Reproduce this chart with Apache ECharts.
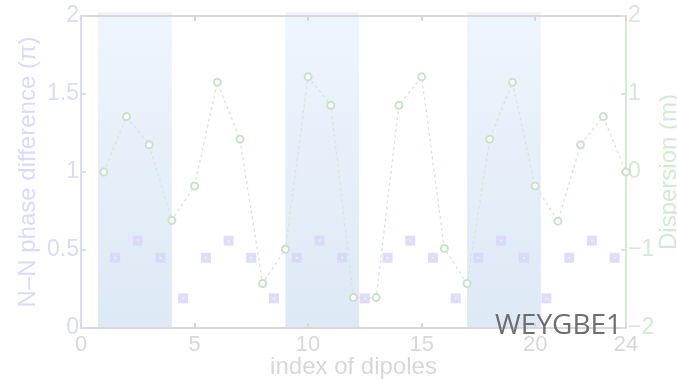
<!DOCTYPE html>
<html>
<head>
<meta charset="utf-8">
<style>
  html, body { margin: 0; padding: 0; background: #ffffff; }
  #chart { width: 677px; height: 379px; }
</style>
<script src="https://cdn.jsdelivr.net/npm/echarts@6/dist/echarts.min.js"></script>
</head>
<body>
<div id="chart"></div>
<script>
// Dipole midpoints and the N–N phase difference (in units of pi)
const phaseX = [1.5, 2.5, 3.5, 4.5, 5.5, 6.5, 7.5, 8.5, 9.5, 10.5, 11.5, 12.5,
                13.5, 14.5, 15.5, 16.5, 17.5, 18.5, 19.5, 20.5, 21.5, 22.5, 23.5];
const phaseY = [0.45, 0.56, 0.45, 0.19, 0.45, 0.56, 0.45, 0.19, 0.45, 0.56, 0.45, 0.19,
                0.45, 0.56, 0.45, 0.19, 0.45, 0.56, 0.45, 0.19, 0.45, 0.56, 0.45];

// Dipole index and dispersion (m)
const dispX = [1, 2, 3, 4, 5, 6, 7, 8, 9, 10, 11, 12,
               13, 14, 15, 16, 17, 18, 19, 20, 21, 22, 23, 24];
const dispY = [0, 0.71, 0.35, -0.62, -0.18, 1.15, 0.42, -1.43, -0.99, 1.22, 0.855, -1.61,
               -1.61, 0.855, 1.22, -0.98, -1.43, 0.42, 1.15, -0.18, -0.63, 0.35, 0.71, 0];

// Shaded dipole ranges
const bandStart = [0.75, 9, 17];
const bandEnd = [4, 12.25, 20.25];

// Axis ticks
const xTicks = [0, 5, 10, 15, 20, 24];
const leftTicks = [0, 0.5, 1, 1.5, 2];
const rightTicks = [-2, -1, 0, 1, 2];

const LAV = '#dadafb';
const GRN = '#d4ead4';
const GRY = '#d8d8d8';
const FONT = '"Liberation Sans", Arial, sans-serif';

const chart = echarts.init(document.getElementById('chart'), null, { renderer: 'canvas' });

const bandFill = new echarts.graphic.LinearGradient(0, 0, 0, 1, [
  { offset: 0, color: '#eef5fe' },
  { offset: 1, color: '#dde9f5' }
]);

const option = {
  animation: false,
  backgroundColor: '#ffffff',
  grid: { left: 81, right: 51, top: 16, bottom: 51, containLabel: false, outerBoundsMode: 'none' },
  xAxis: [
    {
      type: 'value', min: xTicks[0], max: xTicks[xTicks.length - 1], interval: 5,
      position: 'bottom',
      name: 'index of dipoles', nameLocation: 'middle', nameGap: 27, nameMoveOverlap: false,
      nameTextStyle: { color: GRY, fontSize: 24, fontFamily: FONT },
      axisLine: { onZero: false, lineStyle: { color: GRY, width: 2 } },
      axisTick: { inside: true, length: 5, lineStyle: { color: GRY, width: 2 } },
      axisLabel: { color: GRY, fontSize: 22, fontFamily: FONT, margin: 6 },
      splitLine: { show: false }
    },
    {
      type: 'value', min: xTicks[0], max: xTicks[xTicks.length - 1], interval: 5,
      position: 'top',
      axisLine: { onZero: false, lineStyle: { color: GRY, width: 2 } },
      axisTick: { inside: true, length: 5, lineStyle: { color: GRY, width: 2 } },
      axisLabel: { show: false },
      splitLine: { show: false }
    }
  ],
  yAxis: [
    {
      type: 'value', min: leftTicks[0], max: leftTicks[leftTicks.length - 1], interval: 0.5,
      position: 'left',
      name: 'N\u2013N phase difference (\u03c0)', nameLocation: 'middle', nameGap: 41, nameRotate: 90,
      nameMoveOverlap: false,
      nameTextStyle: { color: LAV, fontSize: 24, fontFamily: FONT },
      axisLine: { show: true, onZero: false, lineStyle: { color: LAV, width: 2 } },
      axisTick: { show: true, inside: true, length: 5, lineStyle: { color: LAV, width: 2 } },
      axisLabel: { color: LAV, fontSize: 23, fontFamily: FONT, margin: 2 },
      splitLine: { show: false }
    },
    {
      type: 'value', min: rightTicks[0], max: rightTicks[rightTicks.length - 1], interval: 1,
      position: 'right',
      name: 'Dispersion (m)', nameLocation: 'middle', nameGap: 31, nameRotate: 90,
      nameMoveOverlap: false,
      nameTextStyle: { color: GRN, fontSize: 24, fontFamily: FONT },
      axisLine: { show: true, onZero: false, lineStyle: { color: GRN, width: 2 } },
      axisTick: { show: true, inside: true, length: 5, lineStyle: { color: GRN, width: 2 } },
      axisLabel: {
        color: GRN, fontSize: 23, fontFamily: FONT, margin: 2,
        formatter: v => String(v).replace('-', '\u2212')
      },
      splitLine: { show: false }
    }
  ],
  graphic: [
    {
      type: 'text', left: 495, top: 312, z: 100,
      style: { text: 'WEYGBE1', fill: '#6e6e6e', font: '28px "Open Sans", sans-serif' }
    }
  ],
  series: [
    {
      type: 'custom', name: 'bands', z: -1, clip: false, silent: true,
      xAxisIndex: 0, yAxisIndex: 0,
      data: bandStart.map((s, i) => [s, bandEnd[i]]),
      encode: { x: [0, 1] },
      renderItem: (params, api) => {
        const p0 = api.coord([api.value(0), leftTicks[0]]);
        const p1 = api.coord([api.value(1), leftTicks[leftTicks.length - 1]]);
        return {
          type: 'rect',
          shape: { x: p0[0], y: p1[1] - 4, width: p1[0] - p0[0], height: p0[1] - p1[1] + 4 },
          style: { fill: bandFill }
        };
      }
    },
    {
      type: 'line', name: 'dispersion', xAxisIndex: 0, yAxisIndex: 1,
      data: dispX.map((x, i) => [x, dispY[i]]),
      symbol: 'emptyCircle', symbolSize: 7, showAllSymbol: true, z: 3,
      lineStyle: { color: '#d3e9d3', width: 1.3, type: [3, 3] },
      itemStyle: { color: '#c9e2c9', borderColor: '#c9e2c9', borderWidth: 1.4 }
    },
    {
      type: 'scatter', name: 'phase', xAxisIndex: 0, yAxisIndex: 0,
      data: phaseX.map((x, i) => [x, phaseY[i]]),
      symbol: 'rect', symbolSize: 10, z: 4,
      itemStyle: { color: '#d6d6fa' }
    },
    {
      type: 'scatter', name: 'phase centre', xAxisIndex: 0, yAxisIndex: 0,
      data: phaseX.map((x, i) => [x, phaseY[i]]),
      symbol: 'rect', symbolSize: 2, z: 5, silent: true,
      itemStyle: { color: '#f4f4ff' }
    }
  ]
};

chart.setOption(option);
</script>
</body>
</html>
